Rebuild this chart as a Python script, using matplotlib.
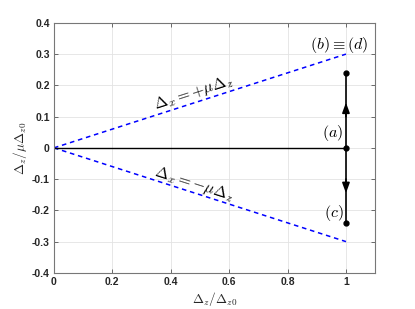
import matplotlib
matplotlib.use('Agg')
import matplotlib.pyplot as plt
import numpy as np

plt.rcParams['mathtext.fontset'] = 'cm'

# chart data
x_line = [0, 1]
y_upper = [0, 0.3]
y_lower = [0, -0.3]
y_axis_line = [0, 0]
pts_x = [1, 1, 1]
pts_y = [0.24, 0, -0.24]
arrow_up = (0.10, 0.145)
arrow_down = (-0.10, -0.145)
xticks = [0, 0.2, 0.4, 0.6, 0.8, 1]
xticklabels = ['0', '0.2', '0.4', '0.6', '0.8', '1']
yticks = [-0.4, -0.3, -0.2, -0.1, 0, 0.1, 0.2, 0.3, 0.4]
yticklabels = ['-0.4', '-0.3', '-0.2', '-0.1', '0', '0.1', '0.2', '0.3', '0.4']

fig = plt.figure(figsize=(4.15, 3.09), dpi=100)
ax = fig.add_axes([0.130, 0.117, 0.774, 0.809])

ax.plot(x_line, y_upper, '--', color='#0000ff', lw=1.1, dashes=(3, 2.5))
ax.plot(x_line, y_lower, '--', color='#0000ff', lw=1.1, dashes=(3, 2.5))
ax.plot(x_line, y_axis_line, '-', color='k', lw=1.0)
ax.plot([1, 1], [pts_y[0], pts_y[2]], '-', color='k', lw=1.2)
ax.plot(pts_x, pts_y, 'o', color='k', ms=3.5)

for y0, y1 in (arrow_up, arrow_down):
    ax.annotate('', xy=(1, y1), xytext=(1, y0),
                arrowprops=dict(arrowstyle='-|>,head_length=0.6,head_width=0.22',
                                color='k', lw=1.2, shrinkA=0, shrinkB=0))

ax.text(0.48, 0.176, r'$\Delta_x = +\mu\Delta_z$', rotation=17.8,
        ha='center', va='center', fontsize=11.5, rotation_mode='anchor')
ax.text(0.48, -0.115, r'$\Delta_x = -\mu\Delta_z$', rotation=-17.8,
        ha='center', va='center', fontsize=11.5, rotation_mode='anchor')
ax.text(0.977, 0.328, r'$(b)\equiv(d)$', ha='center', va='center', fontsize=11.5)
ax.text(0.953, 0.048, r'$(a)$', ha='center', va='center', fontsize=11.5)
ax.text(0.957, -0.21, r'$(c)$', ha='center', va='center', fontsize=11.5)

ax.set_xlim(0, 1.1)
ax.set_ylim(-0.4, 0.4)
ax.set_xticks(xticks)
ax.set_xticklabels(xticklabels)
ax.set_yticks(yticks)
ax.set_yticklabels(yticklabels)
for lab in ax.get_xticklabels() + ax.get_yticklabels():
    lab.set_fontfamily('Liberation Sans')
    lab.set_fontweight('bold')
    lab.set_fontsize(7.5)
    lab.set_color('#262626')

ax.tick_params(direction='in', length=3, width=0.6, color='#555555',
               top=True, right=True, pad=3)
ax.grid(True, color='#e3e3e3', lw=0.6)
ax.set_axisbelow(True)
for s in ax.spines.values():
    s.set_color('#777777')
    s.set_linewidth(0.8)

ax.set_xlabel(r'$\Delta_z/\Delta_{z0}$', fontsize=9.5, color='#262626', labelpad=2)
ax.set_ylabel(r'$\Delta_z/\mu\Delta_{z0}$', fontsize=9.5, color='#262626', labelpad=2)

fig.savefig('out.png', dpi=100)
